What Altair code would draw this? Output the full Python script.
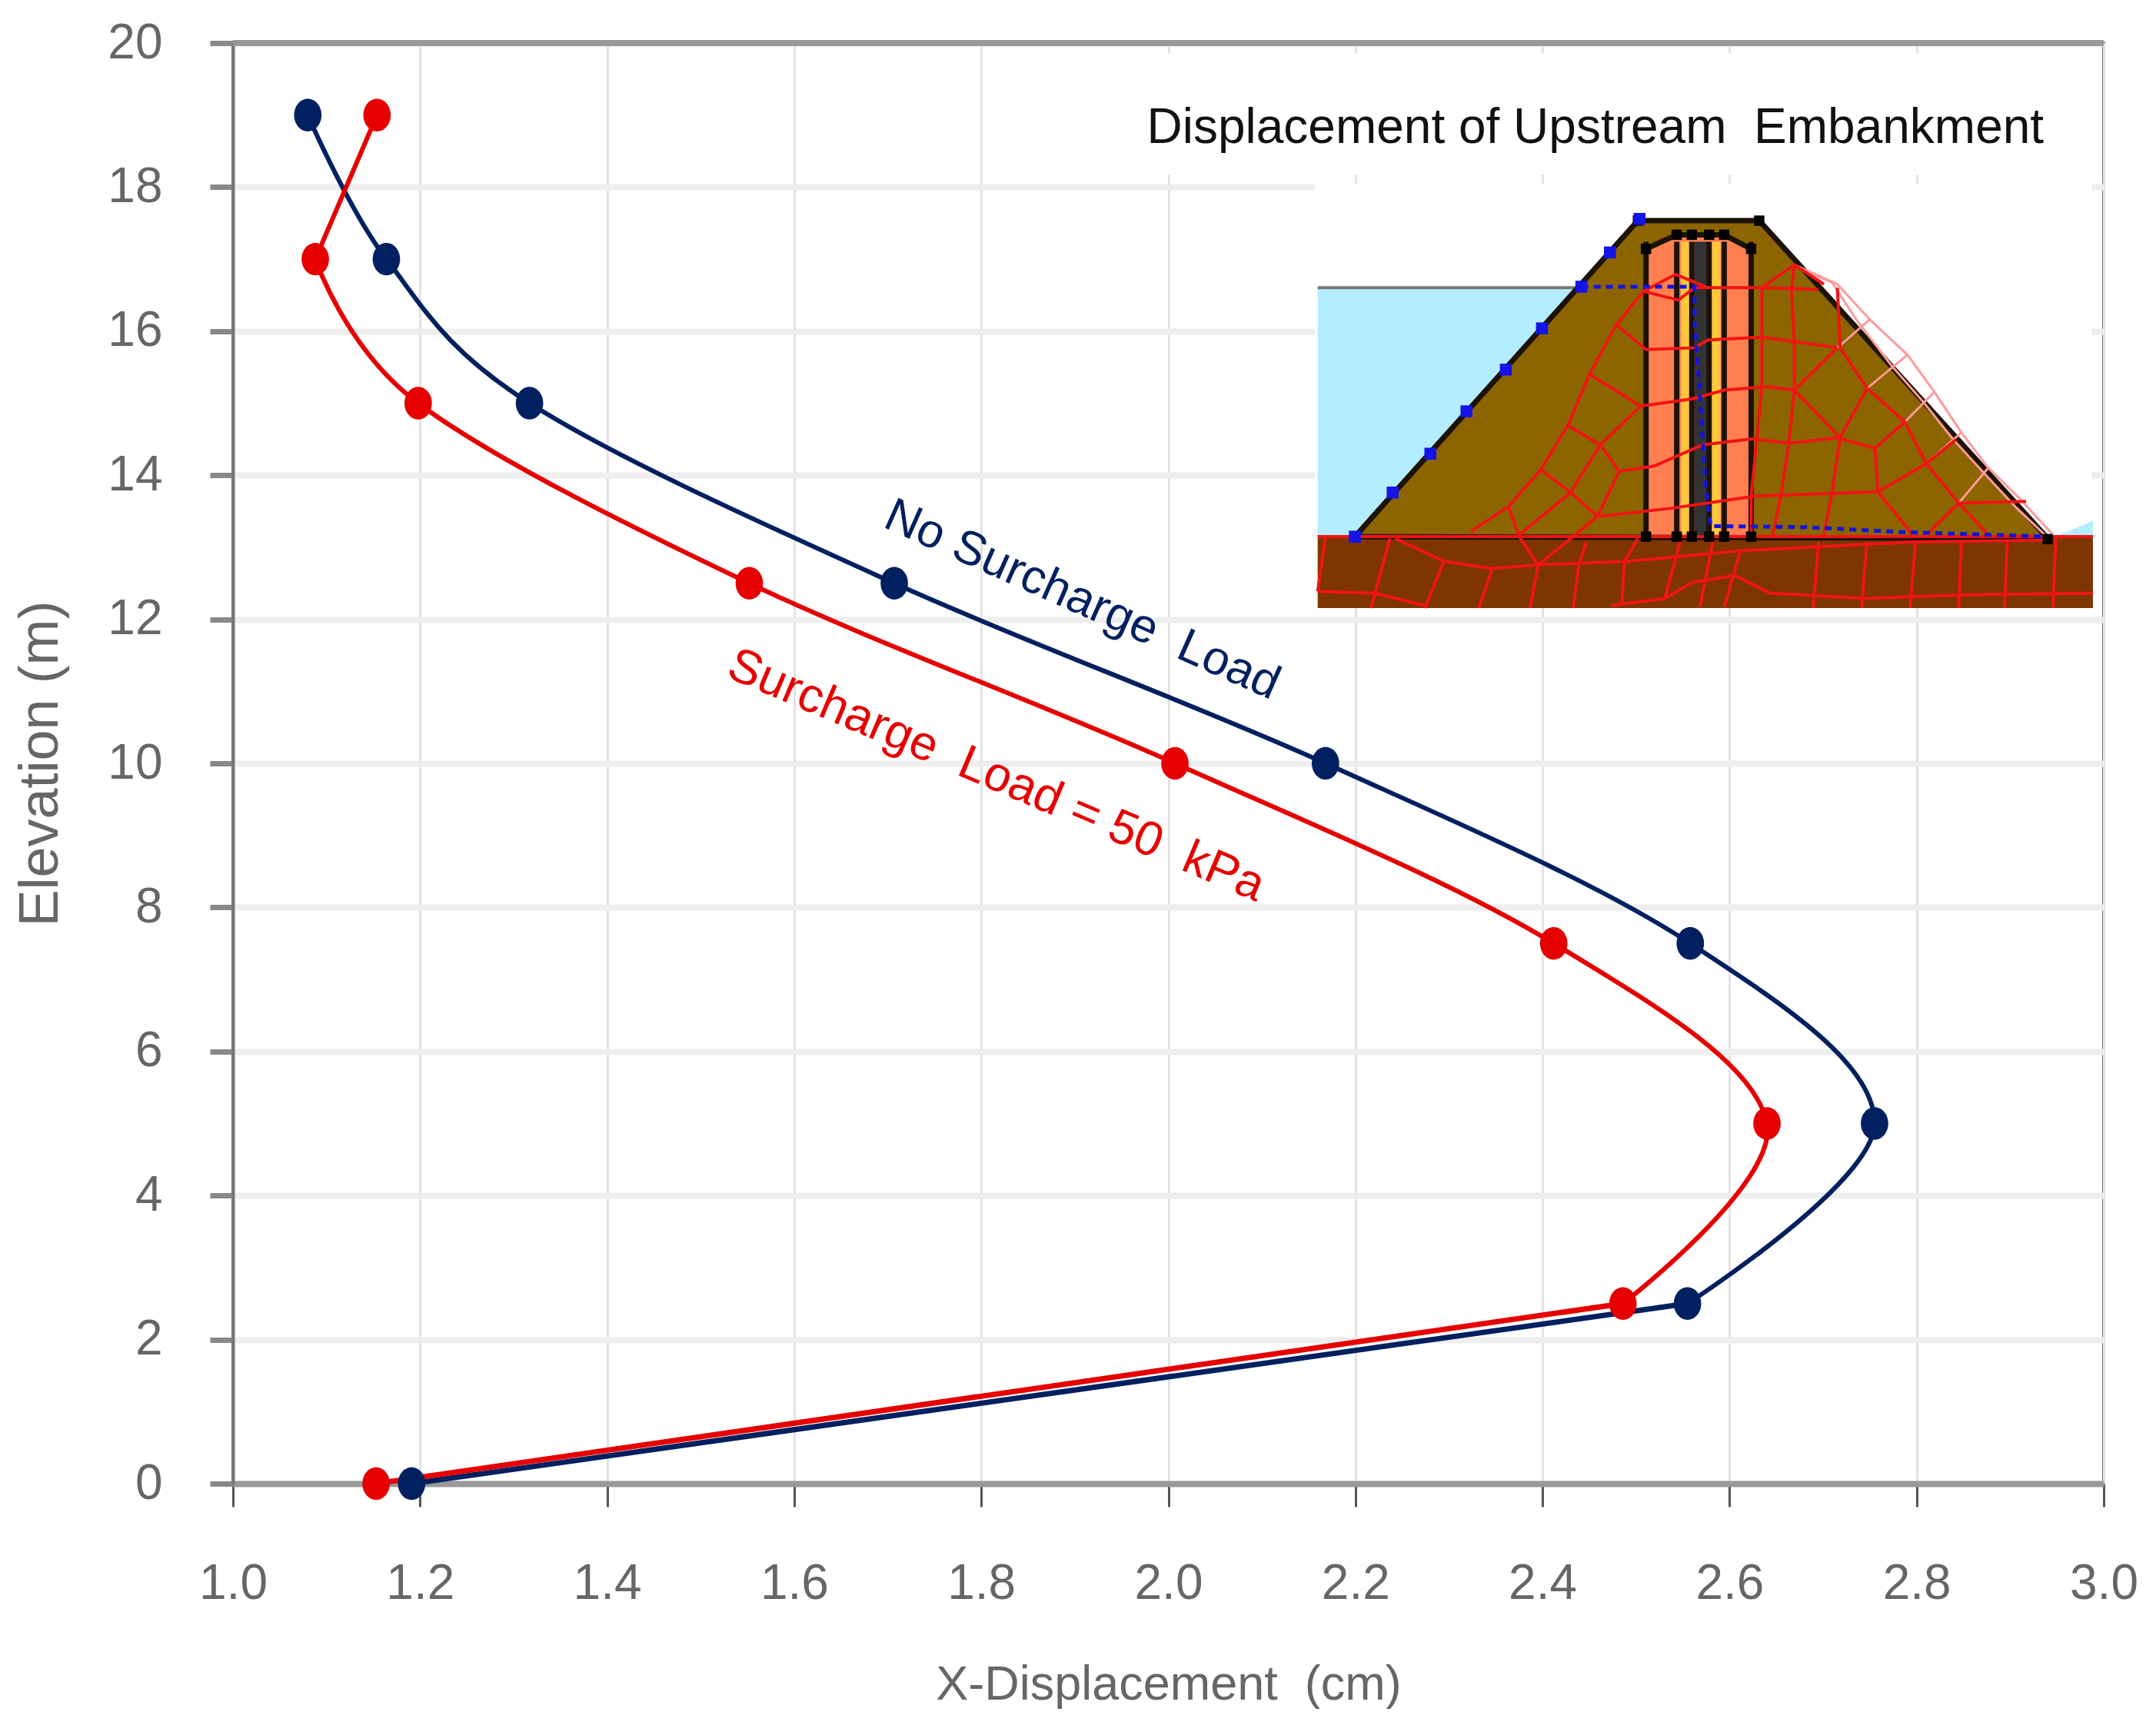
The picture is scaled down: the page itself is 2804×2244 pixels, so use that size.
import altair as alt
import pandas as pd

FONT = "Liberation Sans"

elevation = [0, 2.5, 5, 7.5, 10, 12.5, 15, 17, 19]
no_surcharge = [1.191, 2.555, 2.755, 2.558, 2.168, 1.707, 1.317, 1.164, 1.080]
surcharge_50 = [1.153, 2.486, 2.640, 2.412, 2.007, 1.552, 1.198, 1.088, 1.154]

x_ticks = [1.0, 1.2, 1.4, 1.6, 1.8, 2.0, 2.2, 2.4, 2.6, 2.8, 3.0]
y_ticks = [0, 2, 4, 6, 8, 10, 12, 14, 16, 18, 20]

# inset sketch of the dam, read in its own grid (u right, v down)
ground_v = 1305
panel_u = [46, 1484]
panel_v_bottom = 1507
water_u = [46, 535]
water_v = 600
tail_water_u = [1425, 1484]
tail_water_v = [1298, 1260]
dam_u = [115, 640, 865, 1400]
dam_v = [1305, 410, 410, 1310]
core_u = [655, 660, 712, 800, 845, 850]
core_v = [1305, 490, 450, 450, 490, 1305]
filter_u = [[720, 737], [775, 793]]
filter_v_top = 470
center_u = [745, 770]
black_verticals_u = [655, 712, 740, 772, 800, 850]
black_nodes = [(640, 410), (865, 410), (655, 490), (850, 490), (712, 450), (740, 450),
               (772, 450), (800, 450), (655, 1305), (712, 1305), (740, 1305), (772, 1305),
               (800, 1305), (850, 1305), (1400, 1312)]
blue_nodes_u = [115, 185, 255, 322, 395, 462, 535, 588, 643]
blue_nodes_v = [1305, 1180, 1070, 950, 832, 715, 597, 500, 405]
phreatic = [(535, 597), (745, 597), (745, 700), (755, 900), (765, 1150), (775, 1275),
            (950, 1278), (1130, 1292), (1400, 1305)]
deformed_lines = [
    [(930, 535), (1010, 590), (1070, 690), (1140, 790), (1190, 895), (1240, 1010), (1290, 1110), (1350, 1200), (1410, 1300)],
    [(945, 550), (1000, 585), (1045, 690), (1110, 820), (1170, 925), (1225, 1030), (1285, 1130), (1340, 1220), (1395, 1300)],
    [(1010, 770), (1070, 690)],
    [(1065, 885), (1140, 790)],
    [(1135, 980), (1190, 895)],
    [(1175, 1098), (1240, 1010)],
    [(1235, 1210), (1290, 1110)],
]
mesh_lines = [
    [(650, 610), (715, 635), (745, 600), (870, 600), (975, 605)],
    [(650, 610), (710, 562), (770, 600)],
    [(870, 600), (930, 535), (985, 590)],
    [(600, 705), (655, 775), (745, 770), (770, 748), (870, 740), (1010, 770)],
    [(550, 845), (645, 935), (740, 915), (800, 890), (880, 880), (930, 890)],
    [(510, 990), (570, 1045), (605, 1120), (670, 1105), (760, 1045), (850, 1028), (920, 1040), (1010, 1025), (1080, 1055)],
    [(460, 1115), (515, 1180), (565, 1248), (700, 1225), (860, 1190), (1085, 1178), (1175, 1098), (1230, 1030)],
    [(1235, 1210), (1360, 1205)],
    [(650, 610), (600, 705), (550, 845), (510, 990), (460, 1115), (400, 1220), (330, 1290)],
    [(645, 935), (570, 1045), (515, 1180), (420, 1300)],
    [(605, 1120), (565, 1248), (455, 1385)],
    [(400, 1220), (420, 1305), (455, 1385)],
    [(930, 535), (925, 605), (930, 750), (930, 890), (920, 1040), (905, 1190), (890, 1300)],
    [(1010, 600), (1015, 770), (1065, 885), (1135, 980), (1175, 1098), (1235, 1210), (1290, 1300)],
    [(1010, 770), (930, 890), (1015, 1025), (1065, 885)],
    [(1135, 980), (1080, 1055), (1085, 1178), (1150, 1300)],
    [(1015, 1025), (1000, 1180), (985, 1300)],
    [(1235, 1210), (1175, 1300)],
    [(870, 600), (870, 880), (850, 1190), (850, 1300)],
    [(46, 1305), (1484, 1305)],
    [(190, 1310), (280, 1375), (370, 1395), (455, 1385), (620, 1375), (830, 1345), (1150, 1320), (1400, 1315)],
    [(46, 1460), (150, 1465), (245, 1500)],
    [(590, 1500), (690, 1480), (740, 1435), (820, 1415), (885, 1465), (1060, 1480), (1240, 1470), (1484, 1465)],
    [(60, 1310), (46, 1460)],
    [(180, 1310), (145, 1507)],
    [(280, 1375), (245, 1507)],
    [(370, 1395), (345, 1507)],
    [(455, 1385), (440, 1507)],
    [(545, 1320), (530, 1385), (520, 1507)],
    [(640, 1310), (615, 1375), (610, 1500)],
    [(720, 1310), (690, 1480)],
    [(780, 1310), (755, 1505)],
    [(830, 1345), (800, 1505)],
    [(975, 1320), (965, 1507)],
    [(1065, 1320), (1055, 1507)],
    [(1155, 1320), (1145, 1507)],
    [(1240, 1320), (1235, 1507)],
    [(1325, 1320), (1320, 1507)],
    [(1415, 1310), (1410, 1507)],
]


def to_x(u):
    return 2.2 + (u - 116) / 1735


def to_y(v):
    return 18 - (v - 315) / 204


def polylines(lines):
    rows = []
    for n, line in enumerate(lines):
        for i, (u, v) in enumerate(line):
            rows.append({"x": to_x(u), "y": to_y(v), "line": n, "i": i})
    return pd.DataFrame(rows)


def rects(items):
    return pd.DataFrame([{"x0": a, "x1": b, "y0": c, "y1": d, "color": col} for a, b, c, d, col in items])


x_scale = alt.Scale(domain=[1, 3], nice=False)
y_scale = alt.Scale(domain=[0, 20], nice=False)

x_axis = alt.Axis(
    values=x_ticks, format=".1f", title="X-Displacement \u00a0(cm)",
    grid=True, gridColor="#e2e2e2", gridWidth=3,
    domainColor="#999999", domainWidth=8,
    tickColor="#555555", tickWidth=3, tickSize=30,
    labelFont=FONT, labelFontSize=64, labelColor="#666666", labelPadding=68, labelFlush=False,
    titleFont=FONT, titleFontSize=63, titleColor="#666666", titleFontWeight="normal", titlePadding=68,
)
y_axis = alt.Axis(
    values=y_ticks, title="Elevation (m)",
    grid=True, gridColor="#eeeeee", gridWidth=8,
    domainColor="#777777", domainWidth=4,
    tickColor="#888888", tickWidth=7, tickSize=30,
    labelFont=FONT, labelFontSize=64, labelColor="#666666", labelPadding=62, labelFlush=False,
    titleFont=FONT, titleFontSize=72, titleColor="#666666", titleFontWeight="normal", titlePadding=50,
)
nx = lambda f: alt.X(f, scale=x_scale, axis=x_axis)
ny = lambda f: alt.Y(f, scale=y_scale, axis=y_axis)

# white boxes behind the title and the sketch hide the grid there
boxes = alt.Chart(rects([
    (1.99, 2.987, 18.17, 19.86, "white"),
    (2.157, 2.987, 12.157, 18.05, "white"),
])).mark_rect(color="white").encode(x=nx("x0:Q"), x2="x1:Q", y=ny("y0:Q"), y2="y1:Q")

top_border = alt.Chart(pd.DataFrame({"y": [20]})).mark_rule(color="#999999", strokeWidth=8).encode(y=ny("y:Q"))

filled = alt.Chart(rects([
    (to_x(panel_u[0]), to_x(panel_u[1]), to_y(ground_v), to_y(panel_v_bottom), "#7f3500"),
    (to_x(water_u[0]), to_x(water_u[1]), to_y(ground_v), to_y(water_v), "#b4edff"),
])).mark_rect().encode(
    x=nx("x0:Q"), x2="x1:Q", y=ny("y0:Q"), y2="y1:Q",
    color=alt.Color("color:N", scale=None),
)

tail_water = alt.Chart(pd.DataFrame({
    "x": [to_x(u) for u in tail_water_u],
    "y": [to_y(v) for v in tail_water_v],
    "y2": [to_y(ground_v)] * 2,
})).mark_area(color="#b4edff", orient="vertical").encode(x=nx("x:Q"), y=ny("y:Q"), y2="y2:Q")

water_line = alt.Chart(pd.DataFrame({
    "x": [to_x(water_u[0])], "x2": [to_x(water_u[1])], "y": [to_y(water_v)],
})).mark_rule(color="#777777", strokeWidth=4).encode(x=nx("x:Q"), x2="x2:Q", y=ny("y:Q"))

dam = alt.Chart(pd.DataFrame({
    "x": [to_x(u) for u in dam_u],
    "y": [to_y(v) for v in dam_v],
    "y2": [to_y(ground_v)] * 4,
})).mark_area(color="#8c6400", orient="vertical").encode(x=nx("x:Q"), y=ny("y:Q"), y2="y2:Q")

core = alt.Chart(pd.DataFrame({
    "x": [to_x(u) for u in core_u],
    "y": [to_y(v) for v in core_v],
    "y2": [to_y(ground_v)] * 6,
})).mark_area(color="#ff7f50", orient="vertical").encode(x=nx("x:Q"), y=ny("y:Q"), y2="y2:Q")

strips = alt.Chart(rects([
    (to_x(filter_u[0][0]), to_x(filter_u[0][1]), to_y(ground_v), to_y(filter_v_top), "#ffc83c"),
    (to_x(filter_u[1][0]), to_x(filter_u[1][1]), to_y(ground_v), to_y(filter_v_top), "#ffc83c"),
    (to_x(center_u[0]), to_x(center_u[1]), to_y(ground_v), to_y(filter_v_top), "#333333"),
])).mark_rect().encode(
    x=nx("x0:Q"), x2="x1:Q", y=ny("y0:Q"), y2="y1:Q",
    color=alt.Color("color:N", scale=None),
)

outline_lines = [
    [(115, 1305), (640, 410), (865, 410), (1400, 1310)],
    [(115, 1305), (1400, 1310)],
    [(655, 490), (712, 450), (800, 450), (850, 490)],
] + [[(u, 1305), (u, 470)] for u in black_verticals_u]
outline = alt.Chart(polylines(outline_lines)).mark_line(color="#1c1208", strokeWidth=7).encode(
    x=nx("x:Q"), y=ny("y:Q"), detail="line:N", order="i:Q",
)

deformed = alt.Chart(polylines(deformed_lines)).mark_line(color="#ff9a9a", strokeWidth=3).encode(
    x=nx("x:Q"), y=ny("y:Q"), detail="line:N", order="i:Q",
)
mesh = alt.Chart(polylines(mesh_lines)).mark_line(color="#f01414", strokeWidth=4).encode(
    x=nx("x:Q"), y=ny("y:Q"), detail="line:N", order="i:Q",
)
phreatic_line = alt.Chart(polylines([phreatic])).mark_line(color="#1414dc", strokeWidth=5, strokeDash=[9, 7]).encode(
    x=nx("x:Q"), y=ny("y:Q"), detail="line:N", order="i:Q",
)
black_pts = alt.Chart(pd.DataFrame({
    "x": [to_x(p[0]) for p in black_nodes], "y": [to_y(p[1]) for p in black_nodes],
})).mark_point(shape="square", filled=True, color="black", size=180, opacity=1).encode(x=nx("x:Q"), y=ny("y:Q"))
blue_pts = alt.Chart(pd.DataFrame({
    "x": [to_x(u) for u in blue_nodes_u], "y": [to_y(v) for v in blue_nodes_v],
})).mark_point(shape="square", filled=True, color="#1414e6", size=240, opacity=1).encode(x=nx("x:Q"), y=ny("y:Q"))

# the curves: first stretch is straight, the rest is smoothed
curves = pd.DataFrame({
    "x": no_surcharge + surcharge_50,
    "y": elevation + elevation,
    "series": ["No Surcharge Load"] * 9 + ["Surcharge Load = 50 kPa"] * 9,
    "i": list(range(9)) * 2,
})
palette = alt.Scale(domain=["No Surcharge Load", "Surcharge Load = 50 kPa"], range=["#00205f", "#e60000"])
colour = alt.Color("series:N", scale=palette, legend=None)

straight = alt.Chart(curves[curves["i"] <= 1]).mark_line(strokeWidth=7).encode(
    x=nx("x:Q"), y=ny("y:Q"), color=colour, order="i:Q",
)
smooth = alt.Chart(curves[(curves["i"] >= 1) & ((curves["i"] <= 7) | (curves["series"] == "No Surcharge Load"))]).mark_line(
    strokeWidth=6, interpolate="cardinal", tension=0
).encode(x=nx("x:Q"), y=ny("y:Q"), color=colour, order="i:Q")
tip = alt.Chart(curves[(curves["i"] >= 7) & (curves["series"] != "No Surcharge Load")]).mark_line(strokeWidth=6).encode(
    x=nx("x:Q"), y=ny("y:Q"), color=colour, order="i:Q",
)
ellipse = "M0,-1A.84,1 0 1 1 0,1A.84,1 0 1 1 0,-1Z"
markers = alt.Chart(curves).mark_point(filled=True, opacity=1, shape=ellipse, size=1800).encode(
    x=nx("x:Q"), y=ny("y:Q"), color=colour,
)

title_text = alt.Chart(pd.DataFrame({"x": [2.936], "y": [18.82], "t": ["Displacement of Upstream \u00a0Embankment"]})).mark_text(
    font=FONT, fontSize=64, color="#111111", align="right", baseline="middle"
).encode(x=nx("x:Q"), y=ny("y:Q"), text="t:N")

label_navy = alt.Chart(pd.DataFrame({"x": [1.908], "y": [12.27], "t": ["No Surcharge \u00a0Load"]})).mark_text(
    font=FONT, fontSize=62, color="#00205f", angle=24, align="center", baseline="middle"
).encode(x=nx("x:Q"), y=ny("y:Q"), text="t:N")
label_red = alt.Chart(pd.DataFrame({"x": [1.816], "y": [9.83], "t": ["Surcharge \u00a0Load = 50 \u00a0kPa"]})).mark_text(
    font=FONT, fontSize=63, color="#e60000", angle=23, align="center", baseline="middle"
).encode(x=nx("x:Q"), y=ny("y:Q"), text="t:N")

chart = alt.layer(
    boxes, top_border, filled, tail_water, water_line, dam, core, strips, outline, deformed, mesh,
    phreatic_line, black_pts, blue_pts, straight, smooth, tip, markers, title_text, label_navy, label_red,
).properties(
    width=2433, height=1874,
    padding={"left": 8, "top": 16, "right": 10, "bottom": 0},
    background="white",
).configure_view(stroke="#777777", strokeWidth=4)

chart.save("out.html", embed_options={"renderer": "svg", "actions": False})
